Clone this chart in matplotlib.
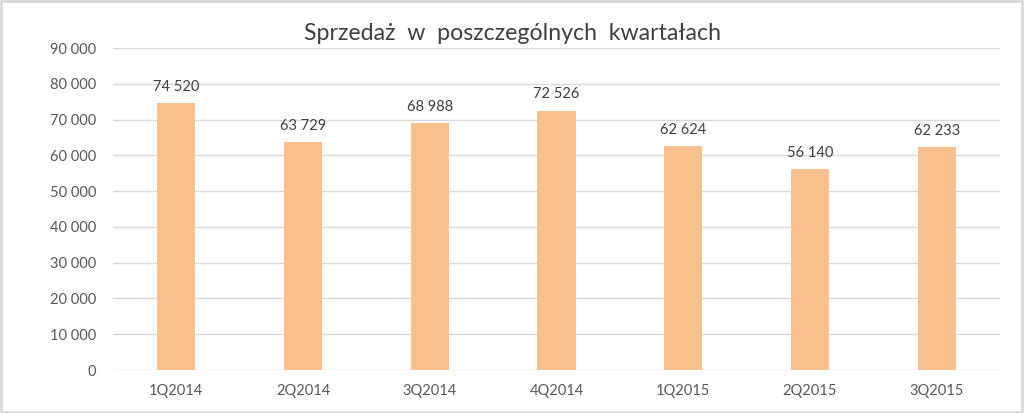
import matplotlib
matplotlib.use("Agg")
import matplotlib.pyplot as plt
from matplotlib.patches import Rectangle

categories = ["1Q2014", "2Q2014", "3Q2014", "4Q2014", "1Q2015", "2Q2015", "3Q2015"]
values = [74520, 63729, 68988, 72526, 62624, 56140, 62233]
yticks = [0, 10000, 20000, 30000, 40000, 50000, 60000, 70000, 80000, 90000]
title = "Sprzedaż  w  poszczególnych  kwartałach"

def fmt(v):
    return f"{v:,}".replace(",", " ")

plt.rcParams['font.family'] = ['Lato', 'DejaVu Sans']
txt = "#595959"

fig = plt.figure(figsize=(10.24, 4.13), dpi=100)
ax = fig.add_axes([113/1024, 43/413, (1000-113)/1024, (370-48)/413])
x = list(range(len(categories)))
ax.bar(x, values, width=0.3, color="#F8BF8F", zorder=3)
for xi, v in zip(x, values):
    ax.text(xi, v + 2600, fmt(v), ha="center", va="bottom", fontsize=10.5, color="#404040")
ax.set_xlim(-0.5, len(categories) - 0.5)
ax.set_ylim(0, 90000)
ax.set_yticks(yticks)
ax.set_yticklabels([fmt(t) for t in yticks], fontsize=10.5, color=txt)
ax.set_xticks(x)
ax.set_xticklabels(categories, fontsize=10.5, color=txt)
ax.tick_params(length=0, pad=10)
ax.tick_params(axis="y", pad=12)
ax.grid(axis="y", color="#D9D9D9", linewidth=1, zorder=0)
for s in ax.spines.values():
    s.set_visible(False)
fig.text(0.5, 1 - 33/413, title, ha="center", va="center", fontsize=16.7, color="#404040")
fig.patches.append(Rectangle((0.001, 0.002), 0.997, 0.995, transform=fig.transFigure,
                             fill=False, edgecolor="#D9D9D9", linewidth=2))
fig.savefig("out.png", dpi=100)
